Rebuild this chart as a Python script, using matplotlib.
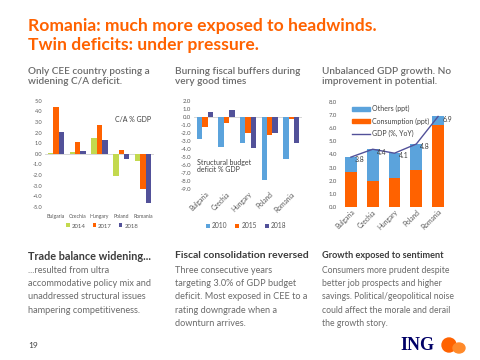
import matplotlib
matplotlib.use("Agg")
import matplotlib.pyplot as plt
import numpy as np
from matplotlib.patches import Ellipse, Patch
from matplotlib.lines import Line2D

plt.rcParams["font.family"] = ["Lato", "DejaVu Sans"]

W, H = 480, 360
ORANGE = "#ff6200"
NAVY = "#525199"
LBLUE = "#5ba3dc"
GREEN = "#c3d94e"
TICK = "#595959"

countries = ["Bulgaria", "Czechia", "Hungary", "Poland", "Romania"]

# C/A % GDP
ca_2014 = [0.05, 0.15, 1.45, -2.1, -0.65]
ca_2017 = [4.45, 1.1, 2.75, 0.35, -3.3]
ca_2018 = [2.05, 0.3, 1.3, -0.5, -4.65]

# structural budget deficit % GDP
sb_2010 = [-2.7, -3.8, -3.3, -7.85, -5.25]
sb_2015 = [-1.3, -0.75, -2.05, -2.2, -0.25]
sb_2018 = [0.6, 0.8, -3.85, -2.05, -3.3]

# GDP growth decomposition
consumption = [2.7, 2.0, 2.2, 2.85, 6.25]
others = [1.1, 2.4, 1.9, 1.95, 0.65]
gdp = [3.8, 4.4, 4.1, 4.8, 6.9]


def px_axes(fig, x0, y_top, x1, y_bot):
    return fig.add_axes([x0 / W, 1 - y_bot / H, (x1 - x0) / W, (y_bot - y_top) / H])


def style(ax, ticks, fmt="{:.1f}"):
    for s in ax.spines.values():
        s.set_visible(False)
    ax.set_yticks(ticks)
    ax.set_yticklabels([fmt.format(t) for t in ticks])
    ax.tick_params(length=0, labelsize=4.3, colors=TICK, pad=2)
    ax.set_xlim(-0.5, 4.5)
    ax.set_xticks(range(5))


fig = plt.figure(figsize=(4.8, 3.6), dpi=100)
fig.patch.set_facecolor("white")

# titles
fig.text(28 / W, 1 - 26 / H, "Romania: much more exposed to headwinds.", color=ORANGE,
         fontsize=12.6, fontweight="bold", va="center")
fig.text(28 / W, 1 - 45 / H, "Twin deficits: under pressure.", color=ORANGE,
         fontsize=12.6, fontweight="bold", va="center")

subtitles = [
    (28, "Only CEE country posting a\nwidening C/A deficit."),
    (175, "Burning fiscal buffers during\nvery good times"),
    (322, "Unbalanced GDP growth. No\nimprovement in potential."),
]
for x0, s in subtitles:
    fig.text(x0 / W, 1 - 67 / H, s, color="#6a6a6a", fontsize=7.2, fontweight="semibold",
             va="top", linespacing=1.15)

x = np.arange(5)

# chart 1
ax1 = px_axes(fig, 45, 100.7, 154, 207)
bw = 0.25
ax1.bar(x - bw, ca_2014, bw, color=GREEN, label="2014")
ax1.bar(x, ca_2017, bw, color=ORANGE, label="2017")
ax1.bar(x + bw, ca_2018, bw, color=NAVY, label="2018")
ax1.axhline(0, color="#d0d0d0", lw=0.6, zorder=0)
ax1.set_ylim(-5, 5)
style(ax1, np.arange(-5, 5.1, 1))
ax1.tick_params(axis="y", labelsize=4.0)
ax1.set_xticklabels(countries)
ax1.tick_params(axis="x", pad=5, labelsize=3.7)
ax1.text(0.64, 0.8, "C/A % GDP", transform=ax1.transAxes, fontsize=5, color="#404040")
ax1.legend(loc="center", bbox_to_anchor=(102 / W, 1 - 226 / H), bbox_transform=fig.transFigure,
           ncol=3, frameon=False, fontsize=4.3, handlelength=0.6, handleheight=0.6,
           handletextpad=0.3, columnspacing=1.2, labelcolor=TICK)

# chart 2
ax2 = px_axes(fig, 194, 100.7, 302, 189.3)
ax2.bar(x - bw, sb_2010, bw, color=LBLUE, label="2010")
ax2.bar(x, sb_2015, bw, color=ORANGE, label="2015")
ax2.bar(x + bw, sb_2018, bw, color=NAVY, label="2018")
ax2.axhline(0, color="#d0d0d0", lw=0.6, zorder=0)
ax2.set_ylim(-9, 2)
style(ax2, np.arange(-9, 2.1, 1))
ax2.set_xticklabels(countries, rotation=45, ha="right", rotation_mode="anchor")
ax2.tick_params(axis="x", labelsize=4.8, pad=1)
ax2.text(0.03, 0.19, "Structural budget\ndeficit % GDP", transform=ax2.transAxes,
         fontsize=5, color="#404040", linespacing=1.1)
ax2.legend(loc="center", bbox_to_anchor=(246 / W, 1 - 226 / H), bbox_transform=fig.transFigure,
           ncol=3, frameon=False, fontsize=4.8, handlelength=0.6, handleheight=0.6,
           handletextpad=0.3, columnspacing=1.2, labelcolor=TICK)

# chart 3
ax3 = px_axes(fig, 340, 102, 449, 207)
ax3.bar(x, consumption, 0.55, color=ORANGE)
ax3.bar(x, others, 0.55, bottom=consumption, color=LBLUE)
ax3.plot(x, gdp, color=NAVY, lw=1.0)
for xi, g in zip(x, gdp):
    ax3.annotate(f"{g:.1f}", (xi, g), xytext=(3, -2), textcoords="offset points",
                 fontsize=5, color="#404040", va="center")
ax3.axhline(0, color="#d0d0d0", lw=0.6, zorder=0)
ax3.set_ylim(0, 8)
style(ax3, np.arange(0, 8.1, 1))
ax3.set_xticklabels(countries, rotation=45, ha="right", rotation_mode="anchor")
ax3.tick_params(axis="x", labelsize=4.8, pad=1)
handles = [Patch(color=LBLUE), Patch(color=ORANGE), Line2D([], [], color=NAVY, lw=1.0)]
ax3.legend(handles, ["Others (ppt)", "Consumption (ppt)", "GDP (%, YoY)"], loc="upper left",
           bbox_to_anchor=(346 / W, 1 - 99 / H), bbox_transform=fig.transFigure,
           frameon=False, fontsize=5, handlelength=2.6, handleheight=0.5,
           handletextpad=0.2, labelspacing=0.75, labelcolor="#404040")

# text blocks
headings = [
    (28, "Trade balance widening...", 7.8),
    (175, "Fiscal consolidation reversed", 7.5),
    (322, "Growth exposed to sentiment", 6.6),
]
for hx, s, fs in headings:
    fig.text(hx / W, 1 - 256 / H, s, color="#3c3c3c", fontsize=fs, fontweight="bold", va="center")

bodies = [
    (28, ["...resulted from ultra", "accommodative policy mix and",
          "unaddressed structural issues", "hampering competitiveness."], 6.6),
    (175, ["Three consecutive years", "targeting 3.0% of GDP budget",
           "deficit. Most exposed in CEE to a", "rating downgrade when a",
           "downturn arrives."], 6.6),
    (322, ["Consumers more prudent despite", "better job prospects and higher",
           "savings. Political/geopolitical noise", "could affect the morale and derail",
           "the growth story."], 6.2),
]
for bx, lines, fs in bodies:
    for i, line in enumerate(lines):
        fig.text(bx / W, 1 - (270.5 + 13.2 * i) / H, line, color="#6a6a6a", fontsize=fs, va="center")

fig.text(28 / W, 1 - 346 / H, "19", color="#404040", fontsize=6, va="center")
fig.text(400 / W, 1 - 345 / H, "ING", color="#000066", fontsize=13, fontweight="bold",
         family=["Liberation Serif", "DejaVu Serif"], va="center")
lion = fig.add_axes([440 / W, 1 - 354 / H, 26 / W, 18 / H])
lion.set_xlim(0, 26)
lion.set_ylim(0, 18)
lion.axis("off")
lion.add_patch(Ellipse((9, 9), 14, 14, color=ORANGE))
lion.add_patch(Ellipse((19, 6), 12, 10, color="#ff8a2a"))

fig.savefig("out.png", dpi=100)
